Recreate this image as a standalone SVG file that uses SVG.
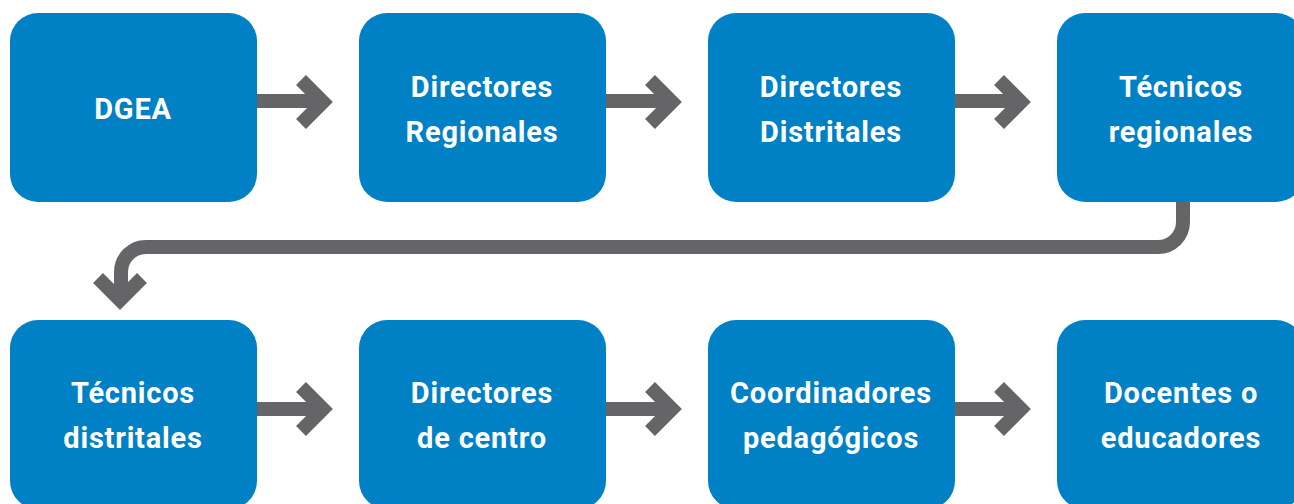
<svg xmlns="http://www.w3.org/2000/svg" width="1294" height="504" viewBox="0 0 1294 504">
<style>
.box{fill:#0081C6}
.t{fill:#fff;font-family:Roboto,"Liberation Sans",sans-serif;font-weight:bold;font-size:29px;text-anchor:middle;letter-spacing:0.8px}
.ln{fill:none;stroke:#656568;stroke-width:14}
.hd{fill:none;stroke:#656568;stroke-width:14;stroke-linejoin:miter;stroke-linecap:butt}
</style>
<rect width="1294" height="504" fill="#fff"/>
<g id="n1"><rect class="box" x="10" y="13" width="247" height="189" rx="28"/><text class="t" x="133" y="119">DGEA</text></g>
<g id="n2"><rect class="box" x="359" y="13" width="247" height="189" rx="28"/><text class="t" x="482" y="97">Directores</text><text class="t" x="482" y="142">Regionales</text></g>
<g id="n3"><rect class="box" x="708" y="13" width="247" height="189" rx="28"/><text class="t" x="831" y="97">Directores</text><text class="t" x="831" y="142">Distritales</text></g>
<g id="n4"><rect class="box" x="1057" y="13" width="247" height="189" rx="28"/><text class="t" x="1181" y="97">Técnicos</text><text class="t" x="1181" y="142">regionales</text></g>
<g id="n5"><rect class="box" x="10" y="320" width="247" height="189" rx="28"/><text class="t" x="133" y="403">Técnicos</text><text class="t" x="133" y="448">distritales</text></g>
<g id="n6"><rect class="box" x="359" y="320" width="247" height="189" rx="28"/><text class="t" x="482" y="403">Directores</text><text class="t" x="482" y="448">de centro</text></g>
<g id="n7"><rect class="box" x="708" y="320" width="247" height="189" rx="28"/><text class="t" x="831" y="403">Coordinadores</text><text class="t" x="831" y="448">pedagógicos</text></g>
<g id="n8"><rect class="box" x="1057" y="320" width="247" height="189" rx="28"/><text class="t" x="1181" y="403">Docentes o</text><text class="t" x="1181" y="448">educadores</text></g>
<g id="connectors">
<path class="ln" d="M257,101 H322"/><polyline class="hd" points="301,80 323,102 301,124"/>
<path class="ln" d="M606,101 H671"/><polyline class="hd" points="650,80 672,102 650,124"/>
<path class="ln" d="M955,101 H1020"/><polyline class="hd" points="999,80 1021,102 999,124"/>
<path class="ln" d="M1183,202 V222 A25,25 0 0 1 1158,247 H146 A25,25 0 0 0 121,272 V298"/><polyline class="hd" points="98,278 120,300 142,278"/>
<path class="ln" d="M257,409 H322"/><polyline class="hd" points="301,387 323,409 301,431"/>
<path class="ln" d="M606,409 H671"/><polyline class="hd" points="650,387 672,409 650,431"/>
<path class="ln" d="M955,409 H1020"/><polyline class="hd" points="999,387 1021,409 999,431"/>
</g>
</svg>
